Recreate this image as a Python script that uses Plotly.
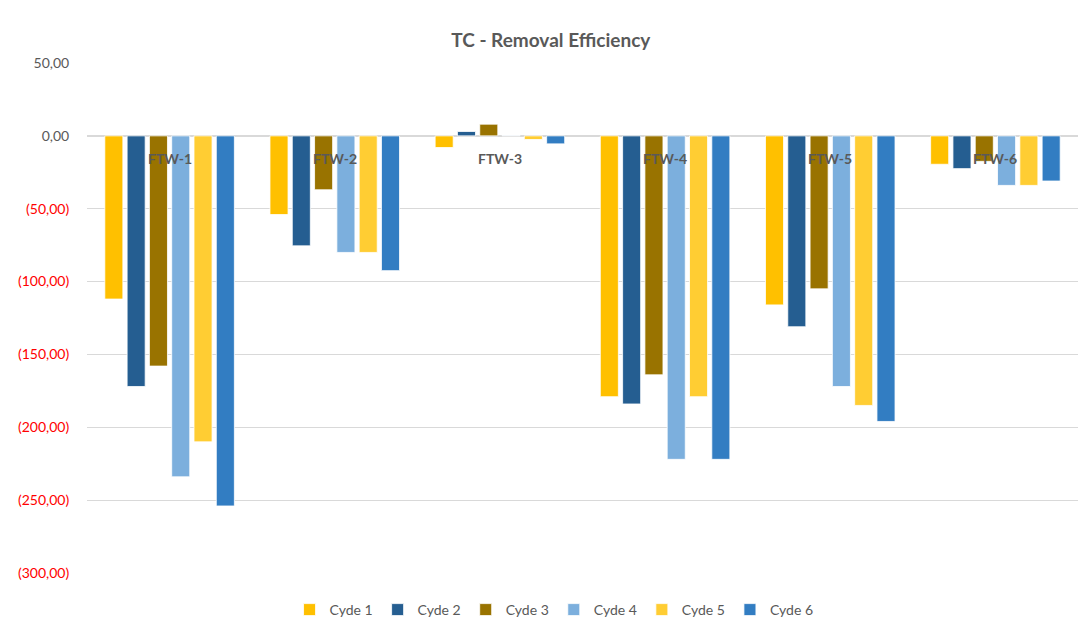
import plotly.graph_objects as go

categories = ["FTW-1", "FTW-2", "FTW-3", "FTW-4", "FTW-5", "FTW-6"]
series_names = ["Cyde 1", "Cyde 2", "Cyde 3", "Cyde 4", "Cyde 5", "Cyde 6"]
cycle1 = [-112, -54, -8, -179, -116, -19.5]
cycle2 = [-172, -75.5, 3, -184, -131, -22.5]
cycle3 = [-158, -37, 8, -164, -105, -17.5]
cycle4 = [-234, -80, 0.3, -222, -172, -34]
cycle5 = [-210, -80, -2.5, -179, -185, -34]
cycle6 = [-254, -92.5, -5.5, -222, -196, -31]
series_values = [cycle1, cycle2, cycle3, cycle4, cycle5, cycle6]
colors = ["#FFC000", "#255E91", "#997300", "#7CAFDD", "#FFCD33", "#327DC2"]

tick_vals = [50, 0, -50, -100, -150, -200, -250, -300]


def fmt(v):
    s = f"{abs(v):.2f}".replace(".", ",")
    if v < 0:
        return f'<span style="color:#FF0000">({s})</span>'
    return s


tick_text = [fmt(v) for v in tick_vals]

FONT = "Lato, Open Sans, sans-serif"

fig = go.Figure()
for name, vals, col in zip(series_names, series_values, colors):
    fig.add_trace(go.Bar(
        x=categories, y=vals, name=name,
        marker=dict(color=col, line=dict(color="#FFFFFF", width=0.8)),
    ))

for c in categories:
    fig.add_annotation(
        x=c, y=0, xref="x", yref="y", text=f"<b>{c}</b>", showarrow=False,
        yanchor="top", yshift=-12,
        font=dict(family=FONT, size=14, color="#595959"),
    )

fig.update_layout(
    width=1080, height=622,
    paper_bgcolor="white", plot_bgcolor="white",
    barmode="group", bargap=0.19, bargroupgap=0.19,
    margin=dict(l=87, r=2, t=63, b=49),
    font=dict(family=FONT, size=13, color="#595959"),
    title=dict(
        text="<b>TC - Removal Efficiency</b>",
        x=0.51, xref="container", xanchor="center",
        y=1 - 40 / 622, yref="container", yanchor="middle",
        font=dict(family=FONT, size=19, color="#595959"),
    ),
    legend=dict(
        orientation="h", xref="container", yref="container",
        x=0.513, xanchor="center", y=1 - 610 / 622, yanchor="middle",
        font=dict(family=FONT, size=14, color="#595959"),
        traceorder="normal", itemwidth=30,
    ),
    xaxis=dict(showticklabels=False, showgrid=False, zeroline=False, showline=False, ticks=""),
    yaxis=dict(
        range=[-300, 50], tickvals=tick_vals, ticktext=tick_text,
        showgrid=True, gridcolor="#D9D9D9", gridwidth=1,
        zeroline=True, zerolinecolor="#D9D9D9", zerolinewidth=2,
        ticks="outside", ticklen=14, tickcolor="rgba(0,0,0,0)",
        tickfont=dict(family=FONT, size=14, color="#595959"),
    ),
)

fig.write_html(
    "out.html",
    config={"displayModeBar": False},
    post_script="document.body.style.margin='0';",
)
